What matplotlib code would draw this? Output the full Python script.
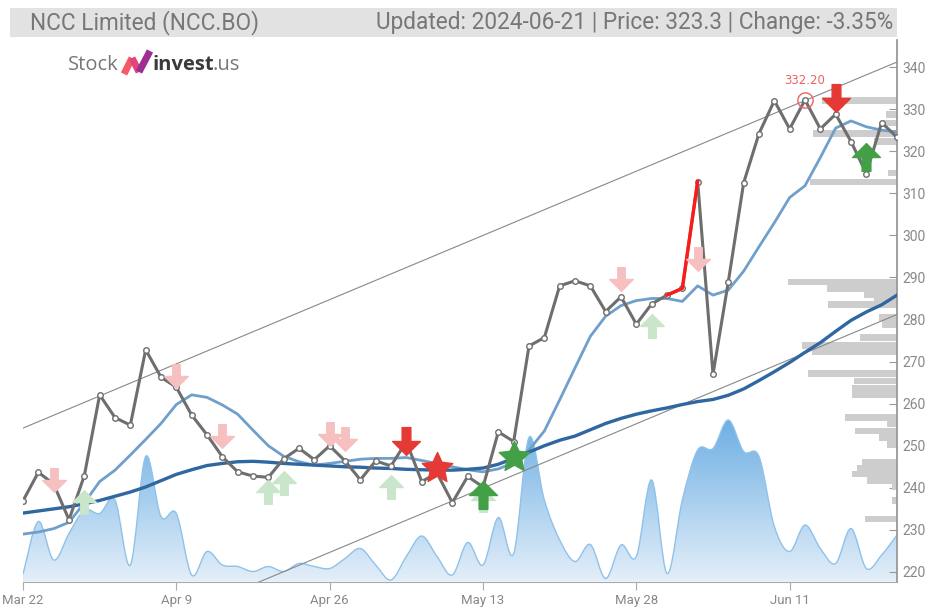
import matplotlib
matplotlib.use("Agg")
import matplotlib.pyplot as plt
from matplotlib.path import Path
from matplotlib.patches import PathPatch, Rectangle
import matplotlib.transforms as mtransforms
import numpy as np

# trading-day index 0..57 (Mar 22 .. Jun 21)
tick_pos = [0, 10, 20, 30, 40, 50]
tick_labels = ["Mar 22", "Apr 9", "Apr 26", "May 13", "May 28", "Jun 11"]

close = [236.9, 243.7, 240.9, 232.4, 242.9, 262.1, 256.7, 254.9, 272.8, 266.3,
         263.9, 257.3, 252.6, 247.4, 243.8, 242.8, 242.5, 246.9, 249.4, 246.7,
         250.0, 246.4, 241.9, 246.4, 245.2, 251.0, 241.5, 243.5, 236.5, 242.7,
         240.2, 253.3, 251.0, 273.7, 275.7, 288.0, 289.2, 288.0, 281.9, 285.4,
         278.9, 283.7, 285.8, 287.4, 312.8, 267.0, 289.0, 312.5, 324.2, 332.0,
         325.3, 332.2, 325.3, 328.8, 322.3, 314.7, 326.8, 323.3]

ma_short = [229.0, 229.5, 230.3, 231.8, 236.4, 241.5, 244.2, 247.8, 251.5, 255.3,
            259.8, 262.1, 261.5, 259.7, 257.5, 253.7, 250.0, 247.5, 246.2, 245.4,
            245.8, 246.3, 246.8, 247.0, 247.0, 247.2, 246.5, 245.8, 245.0, 244.3,
            243.8, 244.5, 246.0, 249.0, 253.5, 260.9, 268.5, 276.0, 280.8, 283.3,
            284.5, 285.0, 285.0, 284.3, 288.0, 285.8, 287.0, 291.5, 297.3, 303.0,
            309.0, 311.8, 318.5, 325.5, 327.2, 325.8, 325.0, 324.6]

ma_long = [234.0, 234.5, 235.0, 235.5, 236.2, 237.0, 238.0, 239.0, 240.2, 241.7,
           243.2, 244.3, 245.3, 245.8, 246.2, 246.3, 246.1, 245.8, 245.6, 245.4,
           245.2, 245.0, 244.9, 244.7, 244.6, 244.4, 244.3, 244.2, 244.2, 244.4,
           244.7, 245.6, 247.0, 248.5, 250.0, 251.3, 252.3, 253.8, 255.3, 256.5,
           257.5, 258.3, 259.0, 259.8, 260.5, 261.0, 262.0, 263.5, 265.5, 267.6,
           269.8, 272.2, 274.5, 277.2, 279.8, 281.8, 283.5, 285.8]

volume = [7, 60, 21.5, 48, 71.5, 68, 81.5, 16.5, 125, 65,
          68, 6.5, 30, 16.5, 15, 10, 15, 10, 18, 15,
          13, 23, 33, 16.5, 1.5, 25, 45.5, 25, 6.5, 39,
          16.5, 64, 28, 144, 81.5, 41.5, 20, 37, 3, 36.5,
          25, 101.5, 8, 81.5, 131.5, 133, 161.5, 130, 125, 55,
          30, 56.5, 33, 18, 53, 13, 26.5, 46.5]

# volume at price (right side profile)
vp_level = [332.1, 328.8, 326.7, 324.2, 322.3, 314.8, 312.7, 288.9, 287.3, 286.0,
            285.0, 283.6, 280.5, 278.9, 275.7, 273.9, 272.3, 267.1, 265.4, 263.7,
            262.1, 256.8, 255.2, 253.5, 251.9, 250.3, 246.1, 244.6, 243.3, 241.7,
            240.2, 237.0, 232.6]
vp_size = [75, 11, 15, 84, 23, 9, 87, 109, 70, 33,
           23, 69, 18, 15, 37, 95, 85, 89, 43, 45,
           45, 52, 10, 42, 18, 10, 35, 40, 45, 30,
           5, 5, 32]

channel_x = [0, 57]
channel_upper = [254.2, 341.2]
channel_lower = [194.1, 281.2]

light_sell_idx = [2, 10, 13, 20, 21, 39, 44]
light_sell_y = [241.9, 266.5, 252.3, 252.8, 251.6, 289.6, 294.4]
light_buy_idx = [4, 16, 17, 24, 30, 41]
light_buy_y = [236.6, 239.0, 241.1, 240.1, 237.1, 278.5]
sell_idx = [25, 53]
sell_y = [251.1, 332.6]
sell_star_idx = [27]
sell_star_y = [244.7]
buy_idx = [30, 55]
buy_y = [238.3, 318.6]
buy_star_idx = [32]
buy_star_y = [247.3]

title_left = "NCC Limited (NCC.BO)"
title_right = "Updated: 2024-06-21 | Price: 323.3 | Change: -3.35%"

W, H = 926, 608
fig = plt.figure(figsize=(W / 100, H / 100), dpi=100)
ax = fig.add_axes([23 / W, (H - 581.5) / H, 874 / W, (581.5 - 40) / H])
ax.set_xlim(0, 57)
ax.set_ylim(217.74, 346.43)

narrow = ["Roboto", "DejaVu Sans"]

# volume area, y in pixel-ish units above the baseline
vol_top = 541.5
vol_tr = mtransforms.Affine2D().scale(1, 1 / vol_top) + \
    mtransforms.blended_transform_factory(ax.transData, ax.transAxes)
x = np.arange(len(volume))
v = np.array(volume, dtype=float)
n = len(v)
verts = [(x[0], 0), (x[0], v[0])]
codes = [Path.MOVETO, Path.LINETO]
for i in range(n - 1):
    a = max(i - 1, 0)
    b = min(i + 2, n - 1)
    c1 = (x[i] + (x[i + 1] - x[a]) / 6, v[i] + (v[i + 1] - v[a]) / 6)
    c2 = (x[i + 1] - (x[b] - x[i]) / 6, v[i + 1] - (v[b] - v[i]) / 6)
    verts += [c1, c2, (x[i + 1], v[i + 1])]
    codes += [Path.CURVE4] * 3
line_verts = verts[1:]
line_codes = [Path.MOVETO] + codes[2:]
verts += [(x[-1], 0), (x[0], 0)]
codes += [Path.LINETO, Path.CLOSEPOLY]
area = PathPatch(Path(verts, codes), transform=vol_tr, facecolor="none",
                 edgecolor="none")
ax.add_patch(area)
grad = np.linspace(0, 1, 256)[:, None]
cmap = matplotlib.colors.LinearSegmentedColormap.from_list(
    "vol", ["#e4eff9", "#6caee3"])
img = ax.imshow(grad, extent=(0, 57, 217.74, 217.74 + 165 / 4.208), origin="lower",
                cmap=cmap, aspect="auto", zorder=1, interpolation="bilinear")
img.set_clip_path(area)
ax.add_patch(PathPatch(Path(line_verts, line_codes), transform=vol_tr,
                       facecolor="none", edgecolor="#8fc2ea", lw=1.0, zorder=1.5))
ax.set_xlim(0, 57)
ax.set_ylim(217.74, 346.43)

# volume profile from the right edge
vp_tr = mtransforms.Affine2D().scale(-1 / 874, 1).translate(1, 0) + \
    mtransforms.blended_transform_factory(ax.transAxes, ax.transData)
for lvl, s in zip(vp_level, vp_size):
    ax.add_patch(Rectangle((0, lvl - 0.8), s, 1.6, transform=vp_tr,
                           facecolor="#cdcdcd", edgecolor="none", zorder=2))

# trend channel
ax.plot(channel_x, channel_upper, color="#888888", lw=0.8, zorder=3)
ax.plot(channel_x, channel_lower, color="#888888", lw=0.8, zorder=3)

# moving averages
ax.plot(x, ma_short, color="#6f9fcb", lw=2.0, zorder=4)
ax.plot(x, ma_long, color="#2f67a0", lw=2.4, zorder=4)

# price
ax.plot(x, close, color="#6e6e6e", lw=2.2, zorder=5,
        marker="o", ms=4.0, mfc="white", mec="#6e6e6e", mew=1.0)
ax.plot(x[42:45], close[42:45], color="#ff1a1a", lw=2.4, zorder=5.5)

# signals
down = Path([(-0.3, 0.95), (0.3, 0.95), (0.3, 0.0), (0.95, 0.0), (0, -0.95),
             (-0.95, 0.0), (-0.3, 0.0), (-0.3, 0.95)], closed=True)
up = Path([(px, -py) for px, py in down.vertices], closed=True)
ang = np.pi / 2 + np.arange(10) * np.pi / 5
rad = np.where(np.arange(10) % 2 == 0, 1.0, 0.48)
star = Path(np.column_stack([rad * np.cos(ang), rad * np.sin(ang)]).tolist()
            + [[0, 1.0]], closed=True)
ax.plot(light_sell_idx, light_sell_y, ls="none", marker=down, ms=17,
        color="#f6c0c0", zorder=6)
ax.plot(light_buy_idx, light_buy_y, ls="none", marker=up, ms=17,
        color="#c9e5ca", zorder=6)
ax.plot(sell_idx, sell_y, ls="none", marker=down, ms=20, color="#e53935", zorder=7)
ax.plot(buy_idx, buy_y, ls="none", marker=up, ms=20, color="#43a047", zorder=7)
ax.plot(sell_star_idx, sell_star_y, ls="none", marker=star, ms=23,
        color="#e53935", zorder=7)
ax.plot(buy_star_idx, buy_star_y, ls="none", marker=star, ms=23,
        color="#43a047", zorder=7)

# high label
hi = int(np.argmax(close))
ax.plot(hi, close[hi], ls="none", marker="o", ms=11, mfc="none", mec="#f06060",
        mew=1.0, zorder=8)
ax.annotate(f"{close[hi]:.2f}", (hi, close[hi]), xytext=(0, 9),
            textcoords="offset points", ha="center", va="bottom",
            color="#f06060", fontsize=8.5, zorder=8)

# axes styling
for s in ["left", "top"]:
    ax.spines[s].set_visible(False)
ax.spines["right"].set_color("#999999")
ax.spines["right"].set_linewidth(1.3)
ax.spines["bottom"].set_color("#aaaaaa")
ax.yaxis.tick_right()
ax.set_yticks(range(220, 341, 10))
ax.tick_params(axis="y", direction="in", length=6, color="#999999",
               labelcolor="#888888", labelsize=10, pad=4)
ax.set_xticks(tick_pos)
ax.set_xticklabels(tick_labels)
ax.tick_params(axis="x", direction="out", length=6, color="#aaaaaa",
               labelcolor="#888888", labelsize=9.5, pad=3)
for lab in ax.get_xticklabels() + ax.get_yticklabels():
    lab.set_family(narrow)

# header bar
fig.patches.append(Rectangle((10 / W, 1 - 37 / H), 887 / W, 29 / H,
                             transform=fig.transFigure, facecolor="#e2e2e2",
                             edgecolor="none"))
fig.text(30 / W, 1 - 22.5 / H, title_left, ha="left", va="center",
         fontsize=16.3, color="#777777", family=narrow)
fig.text(893 / W, 1 - 22.5 / H, title_right, ha="right", va="center",
         fontsize=16.3, color="#777777", family=narrow)

# logo
logo_font = ["Open Sans", "DejaVu Sans"]
fig.text(68 / W, 1 - 65 / H, "Stock", ha="left", va="center", fontsize=14.5,
         color="#777777", family=logo_font)
fig.text(152 / W, 1 - 65 / H, "invest", ha="left", va="center", fontsize=14.5,
         color="#3a3a3a", weight="bold", family=logo_font)
fig.text(213 / W, 1 - 65 / H, ".us", ha="left", va="center", fontsize=14.5,
         color="#777777", family=logo_font)
logo_x = [124, 132, 139, 150]
logo_y = [74, 58, 72, 51]
for i, c in enumerate(["#f45b69", "#e2457b", "#9c2f8f"]):
    fig.add_artist(plt.Line2D([logo_x[i] / W, logo_x[i + 1] / W],
                              [1 - logo_y[i] / H, 1 - logo_y[i + 1] / H],
                              color=c, lw=5, solid_capstyle="butt",
                              transform=fig.transFigure))

fig.savefig("out.png", dpi=100)
